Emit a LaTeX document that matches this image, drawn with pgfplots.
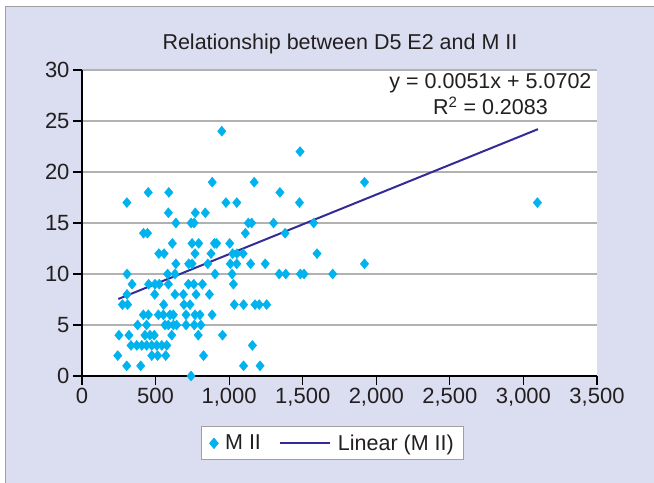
\documentclass[border=0pt]{standalone}
\usepackage{pgfplots}
\pgfplotsset{compat=1.18}
\usepackage{fontspec}
\setmainfont{Liberation Sans}
\definecolor{bglav}{RGB}{219,222,240}
\definecolor{mk}{RGB}{0,178,238}
\definecolor{trend}{RGB}{52,44,150}
\definecolor{gridc}{RGB}{178,178,178}
\definecolor{framec}{RGB}{160,160,160}
\definecolor{txt}{RGB}{35,31,32}
\pgfplotsset{trendleg/.style={legend image code/.code={\draw[##1] (0bp,0bp) -- (50bp,0bp);}}}
\begin{document}
\begin{tikzpicture}
\useasboundingbox (0,0) rectangle (654bp,483bp);
\fill[white] (0,0) rectangle (654bp,483bp);
\fill[bglav] (5bp,0) rectangle (654bp,476bp);
\draw[framec, line width=1bp] (5bp,0) -- (5bp,476bp) -- (654bp,476bp);
\node[anchor=base, font=\fontsize{21.5bp}{26bp}\selectfont, text=txt, inner sep=0pt] at (340bp,433bp) {Relationship between D5 E2 and M II};
\begin{axis}[
  at={(82bp,107bp)}, anchor=south west,
  scale only axis, width=515bp, height=306bp,
  xmin=0, xmax=3500, ymin=0, ymax=30,
  xtick={0,500,...,3500}, ytick={0,5,...,30},
  axis lines*=left,
  axis line style={black, line width=1.2bp},
  tick align=outside,
  major tick length=9bp,
  tick style={black, line width=1.2bp},
  ymajorgrids,
  major grid style={gridc, line width=1.2bp},
  axis background/.style={fill=white},
  clip=false,
  ticklabel style={font=\fontsize{22bp}{26bp}\selectfont, text=txt},
  /pgf/number format/assume math mode=true,
  /pgf/number format/1000 sep={,},
  legend style={at={(0.487,-0.22)}, anchor=center, draw=framec, fill=white,
    line width=1bp, font=\fontsize{21.5bp}{26bp}\selectfont, text=txt,
    inner xsep=8bp, inner ysep=6bp,
    /tikz/every odd column/.append style={column sep=5bp},
    /tikz/every even column/.append style={column sep=16bp}},
  legend columns=2,
]
\addplot[only marks, mark=diamond*, mark size=5bp, color=mk, mark options={fill=mk, draw=mk, xscale=1.12}] table {
x y
950 24
1482 22
885 19
1170 19
1920 19
450 18
590 18
1345 18
305 17
978 17
1052 17
1478 17
3095 17
587 16
770 16
838 16
638 15
741 15
762 15
1130 15
1153 15
1302 15
1575 15
418 14
445 14
1110 14
1380 14
614 13
748 13
793 13
900 13
915 13
1004 13
522 12
558 12
768 12
877 12
1024 12
1053 12
1095 12
1597 12
638 11
725 11
748 11
855 11
1008 11
1052 11
1146 11
1245 11
1920 11
306 10
582 10
632 10
904 10
1020 10
1340 10
1385 10
1484 10
1509 10
1704 10
340 9
453 9
496 9
525 9
587 9
723 9
760 9
818 9
1029 9
306 8
494 8
632 8
689 8
775 8
866 8
275 7
310 7
555 7
693 7
734 7
1035 7
1098 7
1176 7
1205 7
1255 7
417 6
451 6
519 6
553 6
598 6
621 6
707 6
768 6
802 6
884 6
378 5
439 5
564 5
587 5
621 5
643 5
707 5
763 5
808 5
251 4
319 4
428 4
462 4
491 4
610 4
790 4
955 4
333 3
372 3
406 3
439 3
474 3
508 3
542 3
576 3
1158 3
243 2
474 2
514 2
569 2
826 2
304 1
399 1
1098 1
1210 1
741 0
};
\addlegendentry{M II}
\addplot[color=trend, line width=2bp, trendleg] coordinates {(247,7.55) (3099,24.2)};
\addlegendentry{Linear (M II)}
\node[anchor=base, font=\fontsize{21.5bp}{26bp}\selectfont, text=txt, inner sep=0pt] at (axis cs:2776,28.14) {y = 0.0051x + 5.0702};
\node[anchor=base, font=\fontsize{21.5bp}{26bp}\selectfont, text=txt, inner sep=0pt] at (axis cs:2776,25.6) {R\textsuperscript{2} = 0.2083};
\end{axis}
\end{tikzpicture}
\end{document}
